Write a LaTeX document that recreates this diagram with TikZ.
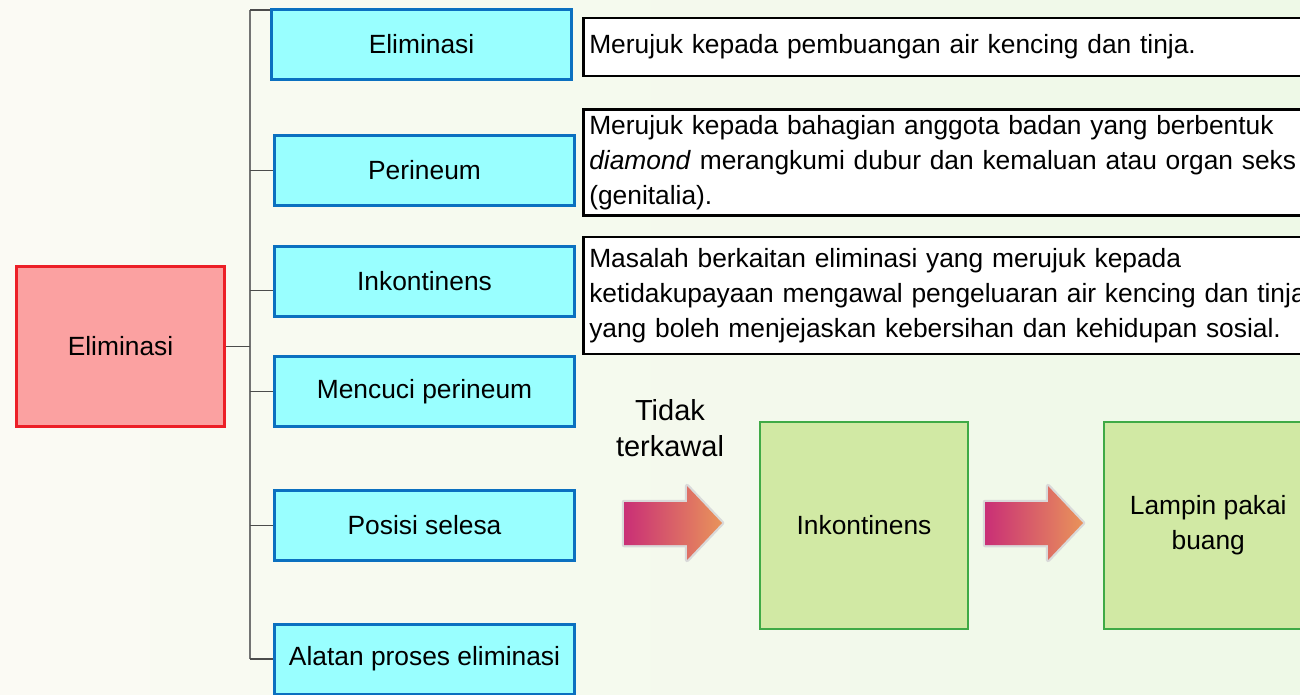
\documentclass[tikz,border=0pt]{standalone}
\usepackage{fontspec}
\setmainfont{Liberation Sans}
\usepackage{xcolor}
\definecolor{boxblue}{HTML}{99FFFF}
\definecolor{edgeblue}{HTML}{0B70C0}
\definecolor{boxred}{HTML}{FBA1A1}
\definecolor{edgered}{HTML}{EC1F27}
\definecolor{boxgreen}{HTML}{D1E9A4}
\definecolor{edgegreen}{HTML}{3FAA46}
\definecolor{arrowmag}{HTML}{C92F76}
\definecolor{arroworange}{HTML}{E9935A}
\definecolor{bgleft}{HTML}{FBFAF4}
\definecolor{bgright}{HTML}{EEF9E7}
\usetikzlibrary{positioning}

% thick gradient block arrow, x offset in px
\newcommand{\flowarrow}[1]{%
  \begin{scope}[shift={(#1,0)}]
    \draw[draw=gray!30, line width=0.9mm, line join=round]
      (0,502) -- (63,502) -- (63,486) -- (98,523) -- (63,560) -- (63,545) -- (0,545) -- cycle;
    \shade[left color=arrowmag, middle color=arrowmag!85!arroworange, right color=arroworange]
      (0,502) -- (63,502) -- (63,486) -- (98,523) -- (63,560) -- (63,545) -- (0,545) -- cycle;
  \end{scope}}

\tikzset{
  topic/.style={rectangle, draw=edgeblue, fill=boxblue, line width=0.6mm,
    minimum width=60mm, minimum height=14mm, inner sep=0pt},
  rootbox/.style={rectangle, draw=edgered, fill=boxred, line width=0.6mm,
    minimum width=41.6mm, minimum height=32mm, inner sep=0pt},
  notebox/.style={rectangle, draw=black, fill=white, line width=0.5mm, anchor=west,
    minimum width=147.6mm, text width=145.2mm, inner xsep=1.2mm, align=left},
  stagebox/.style={rectangle, draw=edgegreen, fill=boxgreen, line width=0.45mm,
    minimum width=41.6mm, minimum height=41.4mm, align=center, inner sep=0pt},
  treeline/.style={draw=black!70, line width=0.7pt},
}

\begin{document}
\begin{tikzpicture}[x=0.2mm, y=-0.2mm, font=\fontsize{15}{19.9}\selectfont]
  \useasboundingbox (0,0) rectangle (1300,695);
  \clip (0,0) rectangle (1300,695);
  \shade[left color=bgleft, right color=bgright] (0,0) rectangle (1300,695);

  % main topic and its branches
  \node[rootbox] (root) at (120.5,346.5) {Eliminasi};

  \node[topic] (elim) at (421.5,44.5) {Eliminasi};
  \node[topic] (peri) at (424.5,170.5) {Perineum};
  \node[topic] (inko) at (424.5,281.5) {Inkontinens};
  \node[topic] (cuci) at (424.5,391.5) {Mencuci perineum};
  \node[topic] (posi) at (424.5,525.5) {Posisi selesa};
  \node[topic] (alat) at (424.5,659) {Alatan proses eliminasi};

  \coordinate (spinetop) at (250,10);
  \coordinate (spinebot) at (250,659);
  \draw[treeline, draw=black!55, line width=1pt] (spinetop) -- (spinebot);
  \draw[treeline] (root.east) -- (root.east -| spinetop);
  \draw[treeline] (spinetop) -- (spinetop -| elim.west);
  \foreach \n in {peri,cuci,posi,alat}
    \draw[treeline] (\n.west -| spinetop) -- (\n.west);
  \draw[treeline] ([yshift=-1.8mm]inko.west -| spinetop) -- ([yshift=-1.8mm]inko.west);

  % definitions
  \node[notebox, minimum height=11.6mm] (def1) at (582,47)
    {Merujuk kepada pembuangan air kencing dan tinja.};
  \node[notebox, minimum height=21mm] (def2) at (582,162.5)
    {Merujuk kepada bahagian anggota badan yang berbentuk\\
     \textit{diamond} merangkumi dubur dan kemaluan atau organ seks\\
     (genitalia).};
  \node[notebox, minimum height=23.4mm] (def3) at (582,295.5)
    {Masalah berkaitan eliminasi yang merujuk kepada\\
     ketidakupayaan mengawal pengeluaran air kencing dan tinja\\
     yang boleh menjejaskan kebersihan dan kehidupan sosial.};

  % flow: uncontrolled -> incontinence -> diapers
  \node[align=center, font=\fontsize{16.5}{20.5}\selectfont] (tidak) at (670,428) {Tidak\\terkawal};
  \flowarrow{624}
  \node[stagebox] (stage1) at (864,525.5) {Inkontinens};
  \flowarrow{985}
  \node[stagebox, right=26.8mm of stage1] (stage2) {Lampin pakai\\buang};
\end{tikzpicture}
\end{document}
